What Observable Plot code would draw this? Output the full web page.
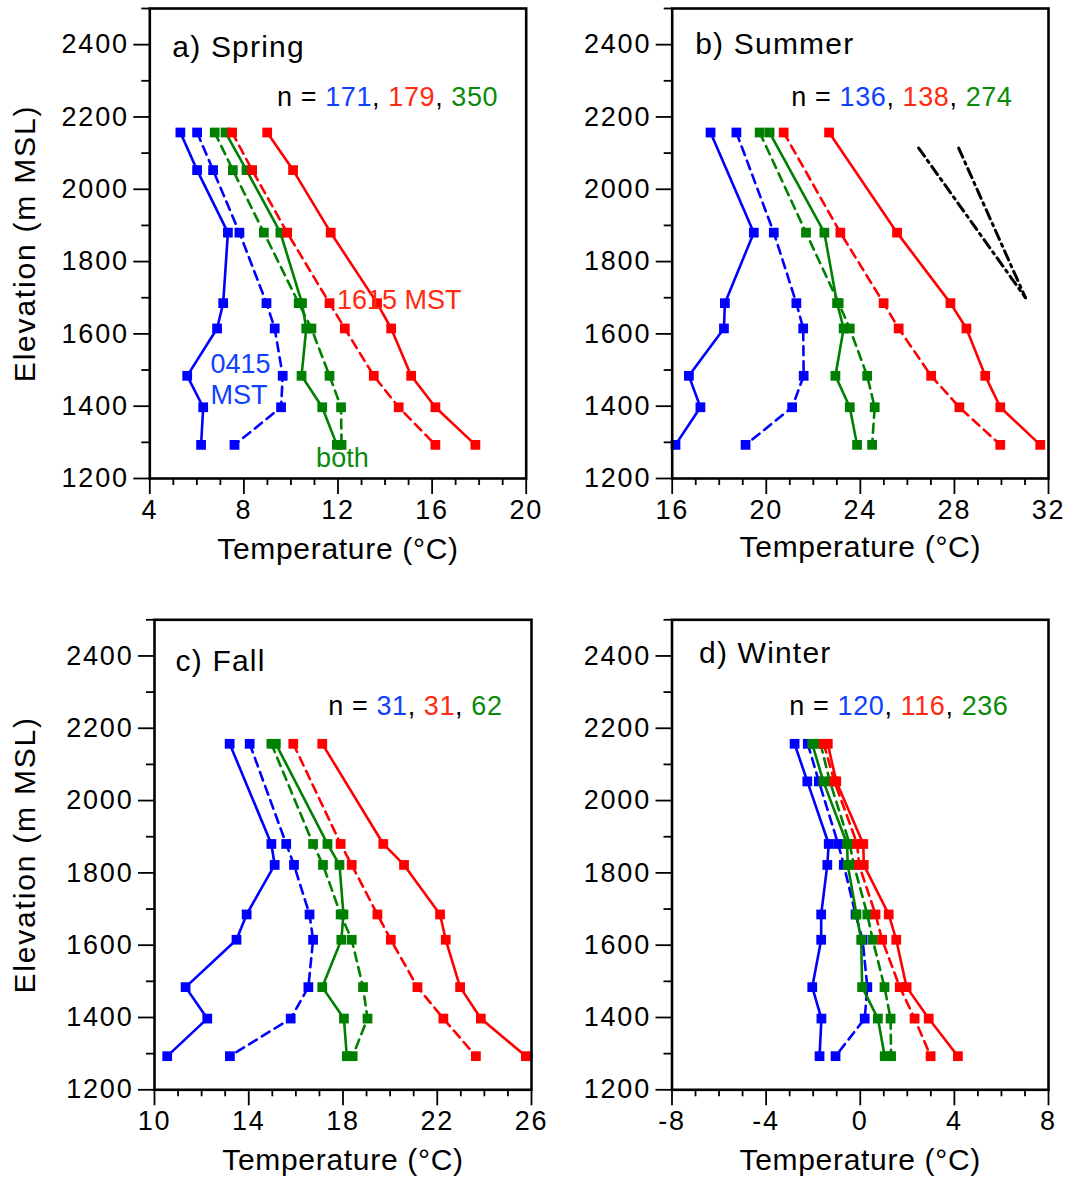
<!DOCTYPE html>
<html><head><meta charset="utf-8">
<script src="https://cdn.jsdelivr.net/npm/d3@7"></script>
<script src="https://cdn.jsdelivr.net/npm/@observablehq/plot@0.6"></script>
<style>
body{margin:0;background:#fff;}
#chart{position:relative;width:1068px;height:1177px;overflow:hidden;background:#fff;}
#chart svg{position:absolute;overflow:visible;}
</style></head><body><div id="chart"></div>
<script>
// ---------------- data ----------------
const seasonTitles = ["a) Spring", "b) Summer", "c) Fall", "d) Winter"];
const nBlue  = [171, 136, 31, 120];
const nRed   = [179, 138, 31, 116];
const nGreen = [350, 274, 62, 236];

const springElev = [2157, 2053, 1880, 1685, 1615, 1484, 1397, 1293];
const springBlueSolid  = [5.30, 6.01, 7.32, 7.12, 6.86, 5.59, 6.27, 6.18];
const springBlueDash   = [6.01, 6.69, 7.81, 8.96, 9.31, 9.65, 9.58, 7.60];
const springGreenSolid = [7.22, 8.11, 9.55, 10.47, 10.65, 10.45, 11.33, 11.95];
const springGreenDash  = [6.76, 7.53, 8.85, 10.33, 10.87, 11.64, 12.13, 12.15];
const springRedDash    = [7.50, 8.35, 9.84, 11.64, 12.29, 13.52, 14.58, 16.14];
const springRedSolid   = [8.99, 10.09, 11.69, 13.66, 14.26, 15.11, 16.14, 17.84];

const summerElev = [2157, 1880, 1685, 1615, 1484, 1397, 1293];
const summerBlueSolid  = [17.63, 19.47, 18.24, 18.20, 16.71, 17.20, 16.14];
const summerBlueDash   = [18.73, 20.32, 21.28, 21.57, 21.59, 21.10, 19.12];
const summerGreenSolid = [20.14, 22.47, 23.01, 23.29, 22.94, 23.55, 23.86];
const summerGreenDash  = [19.72, 21.69, 23.08, 23.55, 24.29, 24.61, 24.50];
const summerRedDash    = [20.74, 23.15, 24.99, 25.63, 27.01, 28.21, 29.95];
const summerRedSolid   = [22.67, 25.56, 27.83, 28.51, 29.31, 29.95, 31.65];

const fallElev = [2157, 1880, 1822, 1685, 1615, 1484, 1397, 1293];
const fallBlueSolid  = [13.19, 14.96, 15.10, 13.91, 13.48, 11.32, 12.24, 10.54];
const fallBlueDash   = [14.04, 15.59, 15.92, 16.58, 16.73, 16.53, 15.78, 13.20];
const fallGreenSolid = [15.15, 17.34, 17.85, 18.02, 17.93, 17.12, 18.04, 18.16];
const fallGreenDash  = [14.96, 16.73, 17.15, 17.90, 18.37, 18.85, 19.04, 18.41];
const fallRedDash    = [15.89, 17.90, 18.37, 19.46, 20.03, 21.16, 22.26, 23.64];
const fallRedSolid   = [17.12, 19.71, 20.59, 22.12, 22.36, 22.97, 23.85, 25.76];

const winterElev = [2157, 2053, 1880, 1822, 1685, 1615, 1484, 1397, 1293];
const winterBlueSolid  = [-2.79, -2.25, -1.34, -1.40, -1.66, -1.66, -2.04, -1.65, -1.73];
const winterBlueDash   = [-2.23, -1.76, -0.94, -0.70, -0.20, 0.10, 0.30, 0.19, -1.05];
const winterGreenSolid = [-2.04, -1.57, -0.56, -0.53, -0.16, 0.04, 0.08, 0.75, 1.04];
const winterGreenDash  = [-1.69, -1.29, -0.45, -0.27, 0.30, 0.53, 1.03, 1.29, 1.31];
const winterRedDash    = [-1.55, -1.10, -0.13, -0.05, 0.65, 0.93, 1.68, 2.31, 2.99];
const winterRedSolid   = [-1.38, -1.02, 0.13, 0.15, 1.21, 1.53, 1.97, 2.91, 4.15];

// reference lapse-rate lines (summer panel)
const lapseElev = [2114, 1700];
const lapseTempA = [26.48, 31.02];
const lapseTempB = [28.18, 31.02];

// annotation labels (spring panel)
const annText = ["1615 MST", "0415\nMST", "both"];
const annTemp = [11.96, 6.58, 11.07];
const annElev = [1670, 1407, 1232];

const yMajorTicks = [1200, 1400, 1600, 1800, 2000, 2200, 2400];
const yMinorTicks = [1300, 1500, 1700, 1900, 2100, 2300, 2500];
const xMajorTicks = [[4, 8, 12, 16, 20], [16, 20, 24, 28, 32], [10, 14, 18, 22, 26], [-8, -4, 0, 4, 8]];

// ---------------- styles ----------------
const BLUE = "#0000ff", RED = "#ff0000", GREEN = "#008000";
const BLUE_T = "#1040ff", RED_T = "#ff2a10", GREEN_T = "#0a8a0a";
const FONT = "'Liberation Sans', Arial, Helvetica, sans-serif";

function seriesOf(bs, bd, gs, gd, rd, rs) {
  return [
    {v: bd, c: BLUE, dash: true}, {v: bs, c: BLUE, dash: false},
    {v: gd, c: GREEN, dash: true}, {v: gs, c: GREEN, dash: false},
    {v: rd, c: RED, dash: true}, {v: rs, c: RED, dash: false}
  ];
}

const panels = [
  {i: 0, elev: springElev, series: seriesOf(springBlueSolid, springBlueDash, springGreenSolid, springGreenDash, springRedDash, springRedSolid),
   left: 0, top: 0, width: 534, height: 600, mL: 149.3, mR: 8.3, mT: 8, mB: 122, ylab: true,
   tdx: 22.5, tdy: 48, ndx: -28, ndy: 97, xdy: 80},
  {i: 1, elev: summerElev, series: seriesOf(summerBlueSolid, summerBlueDash, summerGreenSolid, summerGreenDash, summerRedDash, summerRedSolid),
   left: 534, top: 0, width: 534, height: 600, mL: 137.7, mR: 20, mT: 8, mB: 122, ylab: false,
   tdx: 23, tdy: 45, ndx: -36, ndy: 97, xdy: 78},
  {i: 2, elev: fallElev, series: seriesOf(fallBlueSolid, fallBlueDash, fallGreenSolid, fallGreenDash, fallRedDash, fallRedSolid),
   left: 0, top: 600, width: 534, height: 577, mL: 154, mR: 3, mT: 19.3, mB: 87.7, ylab: true,
   tdx: 21, tdy: 51, ndx: -29, ndy: 95, xdy: 80},
  {i: 3, elev: winterElev, series: seriesOf(winterBlueSolid, winterBlueDash, winterGreenSolid, winterGreenDash, winterRedDash, winterRedSolid),
   left: 534, top: 600, width: 534, height: 577, mL: 137.5, mR: 20, mT: 19.3, mB: 87.7, ylab: false,
   tdx: 27, tdy: 43, ndx: -40, ndy: 95, xdy: 80}
];

const chart = document.getElementById("chart");

panels.forEach(p => {
  const ticks = xMajorTicks[p.i];
  const x0 = ticks[0], x1 = ticks[ticks.length - 1];
  const xMinor = d3.range(x0, x1 + 0.5, 1).filter(v => !ticks.includes(v));
  const marks = [];

  if (p.i === 1) {
    [lapseTempA, lapseTempB].forEach(arr => {
      const pts = arr.map((t, k) => ({T: t, z: lapseElev[k]}));
      marks.push(Plot.line(pts, {x: "T", y: "z", stroke: "black", strokeWidth: 3, strokeDasharray: "10,5,2.5,5"}));
    });
  }

  p.series.forEach(s => {
    const pts = p.elev.map((z, k) => ({T: s.v[k], z})).filter(d => d.T != null);
    marks.push(Plot.line(pts, {x: "T", y: "z", stroke: s.c, strokeWidth: 2.6, strokeDasharray: s.dash ? "9,6" : null}));
    marks.push(Plot.dot(pts, {x: "T", y: "z", symbol: "square", fill: s.c, r: 5.5}));
  });

  // axes
  marks.push(Plot.axisY(yMajorTicks, {tickSize: 16, tickPadding: 5, fontSize: 27, strokeWidth: 1.8, label: null, tickFormat: d => String(d)}));
  marks.push(Plot.axisY(yMinorTicks, {tickSize: 8, strokeWidth: 1.8, label: null, tickFormat: () => ""}));
  marks.push(Plot.axisX(ticks, {tickSize: 16, tickPadding: 5, fontSize: 27, strokeWidth: 1.8, label: null, tickFormat: d => String(d)}));
  marks.push(Plot.axisX(xMinor, {tickSize: 7, strokeWidth: 1.8, label: null, tickFormat: () => ""}));
  marks.push(Plot.frame({stroke: "black", strokeWidth: 2.6}));

  // axis titles
  marks.push(Plot.text(["Temperature (°C)"], {text: d => d, frameAnchor: "bottom", dy: p.xdy, lineAnchor: "bottom", textAnchor: "middle", fontSize: 30}));
  if (p.ylab) {
    marks.push(Plot.text(["Elevation (m MSL)"], {text: d => d, frameAnchor: "left", dx: 34.5 - p.mL, rotate: -90, lineAnchor: "bottom", textAnchor: "middle", fontSize: 30}));
  }

  // panel title & n label
  marks.push(Plot.text([seasonTitles[p.i]], {text: d => d, frameAnchor: "top-left", dx: p.tdx, dy: p.tdy, lineAnchor: "bottom", textAnchor: "start", fontSize: 30}));
  marks.push(Plot.text([`n = ${nBlue[p.i]}, ${nRed[p.i]}, ${nGreen[p.i]}`], {text: d => d, frameAnchor: "top-right", dx: p.ndx, dy: p.ndy, lineAnchor: "bottom", textAnchor: "end", fontSize: 27}));

  if (p.i === 0) {
    const ann = annText.map((t, k) => ({t, T: annTemp[k], z: annElev[k], c: [RED_T, BLUE_T, GREEN_T][k]}));
    marks.push(Plot.text(ann, {x: "T", y: "z", text: "t", fill: d => d.c, textAnchor: "start", lineAnchor: "bottom", lineHeight: 1.15, fontSize: 27}));
  }

  const svg = Plot.plot({
    width: p.width, height: p.height,
    marginLeft: p.mL, marginRight: p.mR, marginTop: p.mT, marginBottom: p.mB,
    x: {domain: [x0, x1]},
    y: {domain: [1200, 2500]},
    color: {type: "identity"},
    style: {fontFamily: FONT, background: "transparent", overflow: "visible", color: "black"},
    marks
  });
  svg.style.left = p.left + "px";
  svg.style.top = p.top + "px";
  svg.style.maxWidth = "none";

  svg.querySelectorAll("text").forEach(t => {
    const s = t.textContent;
    if (/^-?\d+$/.test(s)) t.style.letterSpacing = "1.8px";
    else if (s === seasonTitles[p.i]) t.style.letterSpacing = "1.2px";
    else if (s === "Temperature (°C)") t.style.letterSpacing = "0.7px";
    else if (s === "Elevation (m MSL)") t.style.letterSpacing = "1.8px";
    if (s.startsWith("n = ")) {
      const child = t.querySelector("tspan");
      if (child && child.getAttribute("dy") && !t.getAttribute("dy")) t.setAttribute("dy", child.getAttribute("dy"));
      while (t.firstChild) t.removeChild(t.firstChild);
      t.style.whiteSpace = "pre";
      t.style.letterSpacing = "0.6px";
      [["n = ", "black"], [String(nBlue[p.i]), BLUE_T], [", ", "black"], [String(nRed[p.i]), RED_T], [", ", "black"], [String(nGreen[p.i]), GREEN_T]]
        .forEach(([str, c]) => {
          const ts = document.createElementNS("http://www.w3.org/2000/svg", "tspan");
          ts.textContent = str; ts.setAttribute("fill", c); t.appendChild(ts);
        });
    }
  });
  chart.appendChild(svg);
});
</script>
</body></html>
